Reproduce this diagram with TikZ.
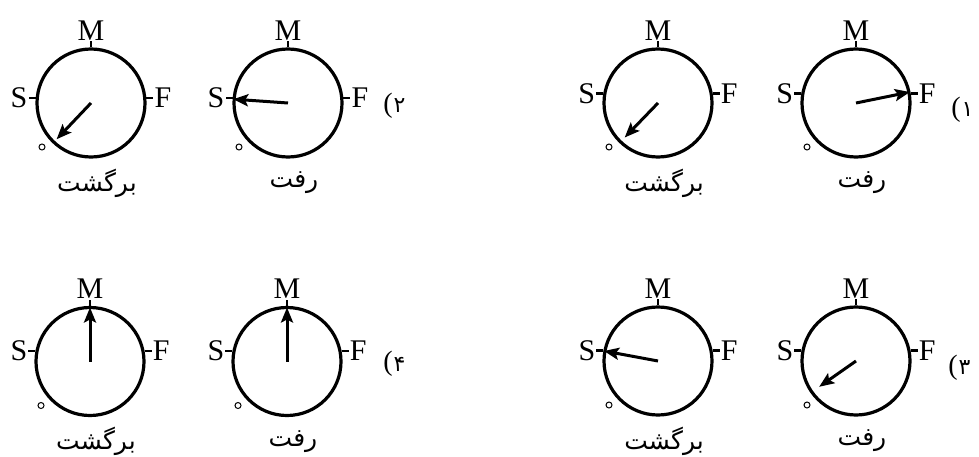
\documentclass[tikz,border=0pt]{standalone}
\usepackage{fontspec}
\setmainfont{Liberation Serif}
\newfontfamily\arabicfont[Script=Arabic]{DejaVu Sans}
\TeXXeTstate=1
\usetikzlibrary{arrows.meta}
\tikzset{
  dialc/.style={draw, circle, line width=3.2pt, minimum size=108pt, inner sep=0pt},
  tickln/.style={line width=2.6pt},
  needle/.style={line width=3pt, -{Stealth[length=15pt,width=12pt,inset=3pt]}},
  lettr/.style={font=\fontsize{30}{30}\selectfont, inner sep=0pt},
  fa/.style={font=\arabicfont\fontsize{25}{28}\selectfont, inner sep=0pt},
  smallo/.style={draw, circle, line width=1pt, minimum size=6pt, inner sep=0pt},
  parlbl/.style={font=\fontsize{28}{28}\selectfont, inner sep=0pt},
  diglbl/.style={font=\arabicfont\fontsize{22}{22}\selectfont, inner sep=0pt},
}
% #1 name, #2 cx, #3 cy, #4 tick angle, #5 needle angle, #6 needle length, #7 word
\newcommand\mydial[7]{%
  \node[dialc] (#1) at (#2,#3) {};
  \coordinate (#1c) at (#2,#3);
  \draw[tickln] (#1.90) -- ++(0,6) coordinate (#1mt);
  \draw[tickln] (#1.180-#4) -- ++(-7,0) coordinate (#1st);
  \draw[tickln] (#1.#4) -- ++(7,0) coordinate (#1ft);
  \node[lettr, anchor=south] (#1M) at ([yshift=1pt]#1mt) {M};
  \node[lettr, anchor=east] (#1S) at ([xshift=-1pt]#1st) {S};
  \node[lettr, anchor=west] (#1F) at ([xshift=1pt]#1ft) {F};
  \path (#1c) ++(#5:#6) coordinate (#1tip);
  \draw[needle] (#1c) -- (#1tip);
  \path (#1c) ++(-49,-44) node[smallo] (#1o) {};
  \path (#1c) ++(6,-80) node[fa] (#1w) {\beginR #7\endR};
}
% #1 name, #2 x, #3 y, #4 digit
\newcommand\mynum[4]{%
  \node[parlbl, anchor=east] (#1p) at (#2,#3) {(};
  \node[diglbl, anchor=west] (#1d) at ([xshift=0.5pt]#1p.east) {#4};
}
\begin{document}
\begin{tikzpicture}[x=1pt,y=1pt]
  \useasboundingbox (0,0) rectangle (979,456);
  \mydial{A}{91}{353}{5}{226.5}{50}{برگشت}
  \mydial{B}{288}{353}{5}{176}{55}{رفت}
  \mydial{C}{658}{353}{10}{226}{48}{برگشت}
  \mydial{D}{856}{353}{10}{11.5}{55}{رفت}
  \mydial{E}{90}{94.5}{11}{90}{54}{برگشت}
  \mydial{G}{287}{94.5}{11}{90}{54}{رفت}
  \mydial{H}{658}{95}{11}{169.5}{55}{برگشت}
  \mydial{K}{856}{95}{11}{215}{45}{رفت}
  \mynum{n2}{393}{350}{۲}
  \mynum{n1}{961}{346}{۱}
  \mynum{n4}{393}{92}{۴}
  \mynum{n3}{958}{88}{۳}
\end{tikzpicture}
\end{document}
